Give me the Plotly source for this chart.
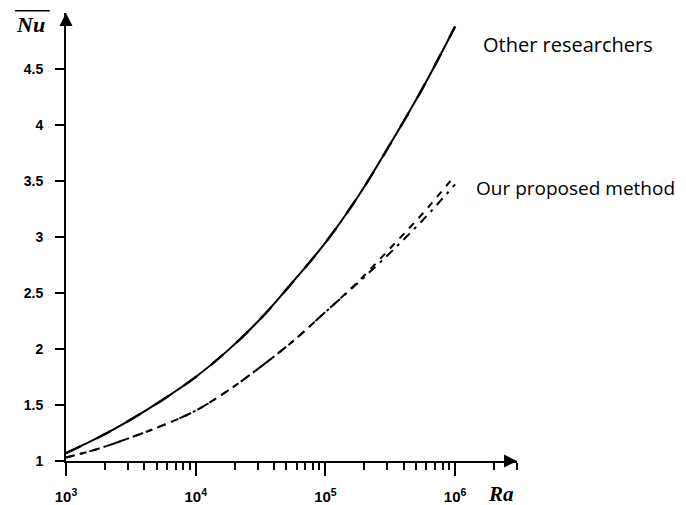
import plotly.graph_objects as go

# Data (x = Rayleigh number, y = average Nusselt number)
ra = [1e3, 1.78e3, 3.16e3, 5.62e3, 1e4, 1.78e4, 3.16e4, 5.62e4, 1e5, 1.78e5, 3.16e5, 5.62e5, 1e6]
nu_other = [1.07, 1.21, 1.37, 1.55, 1.75, 1.99, 2.27, 2.60, 2.95, 3.36, 3.83, 4.33, 4.88]
nu_ours_a = [1.03, 1.11, 1.21, 1.32, 1.45, 1.63, 1.84, 2.07, 2.33, 2.60, 2.90, 3.21, 3.55]
nu_ours_b = [1.03, 1.11, 1.21, 1.32, 1.45, 1.63, 1.84, 2.07, 2.33, 2.59, 2.86, 3.15, 3.47]

x_tickvals = [1e3, 1e4, 1e5, 1e6]
x_ticktext = ["<b>10<sup>3</sup></b>", "<b>10<sup>4</sup></b>", "<b>10<sup>5</sup></b>", "<b>10<sup>6</sup></b>"]
y_tickvals = [1, 1.5, 2, 2.5, 3, 3.5, 4, 4.5]
y_ticktext = ["<b>1</b>", "<b>1.5</b>", "<b>2</b>", "<b>2.5</b>", "<b>3</b>", "<b>3.5</b>", "<b>4</b>", "<b>4.5</b>"]

fig = go.Figure()
fig.add_trace(go.Scatter(x=ra, y=nu_other, mode="lines", line=dict(color="black", width=2, shape="spline")))
fig.add_trace(go.Scatter(x=ra, y=nu_other, mode="lines", line=dict(color="black", width=2.4, dash="16px,18px", shape="spline")))
fig.add_trace(go.Scatter(x=ra, y=nu_ours_a, mode="lines", line=dict(color="black", width=2, dash="7px,7px", shape="spline")))
fig.add_trace(go.Scatter(x=ra, y=nu_ours_b, mode="lines", line=dict(color="black", width=2, dash="9px,6px,3px,6px", shape="spline")))

# page body has an 8px default margin, so the figure is 8px smaller than the window
fig.update_layout(
    width=678, height=497,
    margin=dict(l=58, r=169, t=5, b=44, autoexpand=False),
    plot_bgcolor="white", paper_bgcolor="white",
    showlegend=False,
    font=dict(family="Liberation Sans, Arial, sans-serif", size=14, color="black"),
    xaxis=dict(
        type="log", range=[3, 6.477], showgrid=False, zeroline=False, automargin=False,
        showline=True, linecolor="black", linewidth=2,
        tickvals=x_tickvals, ticktext=x_ticktext,
        ticks="outside", ticklen=13, tickwidth=2, tickcolor="black",
        minor=dict(ticks="outside", ticklen=7, tickwidth=1.6, tickcolor="black", dtick="D1", showgrid=False),
        tickfont=dict(size=15), ticklabelstandoff=8,
    ),
    yaxis=dict(
        range=[1, 5], showgrid=False, zeroline=False, automargin=False,
        showline=True, linecolor="black", linewidth=2,
        tickvals=y_tickvals, ticktext=y_ticktext,
        ticks="outside", ticklen=9, tickwidth=2, tickcolor="black",
        tickfont=dict(size=14), ticklabelstandoff=9,
    ),
)

# axis arrows
fig.add_annotation(x=1.0, y=0, xref="paper", yref="paper", ax=-14, ay=0, text="",
                   showarrow=True, arrowhead=2, arrowsize=1.3, arrowwidth=2, arrowcolor="black", standoff=0)
fig.add_annotation(x=0, y=1.0, xref="paper", yref="paper", ax=0, ay=14, text="",
                   showarrow=True, arrowhead=2, arrowsize=1.3, arrowwidth=2, arrowcolor="black", standoff=0)

# axis titles
fig.add_annotation(x=1.0, y=0, xref="paper", yref="paper", xanchor="right", yanchor="middle", xshift=-1, yshift=-33,
                   text="<b><i>Ra</i></b>", showarrow=False,
                   font=dict(family="Liberation Serif, Times New Roman, serif", size=21))
fig.add_annotation(x=0, y=1.0, xref="paper", yref="paper", xanchor="right", yanchor="middle", xshift=-19, yshift=-11,
                   text="<b><i>Nu</i></b>", showarrow=False,
                   font=dict(family="Liberation Serif, Times New Roman, serif", size=22))
fig.add_shape(type="line", xref="paper", yref="paper", x0=-0.113, x1=-0.036, y0=1.005, y1=1.005,
              line=dict(color="black", width=1.6))

# labels
fig.add_annotation(x=1.0, y=1.0, xref="paper", yref="paper", xanchor="left", yanchor="middle",
                   xshift=-36, yshift=-31, text="Other researchers", showarrow=False,
                   font=dict(family="Open Sans, Noto Sans, sans-serif", size=20))
fig.add_annotation(x=1.0, y=1.0, xref="paper", yref="paper", xanchor="left", yanchor="middle",
                   xshift=-43, yshift=-175, text="Our proposed method", showarrow=False,
                   font=dict(family="Open Sans, Noto Sans, sans-serif", size=19))

fig.write_html("out.html")
